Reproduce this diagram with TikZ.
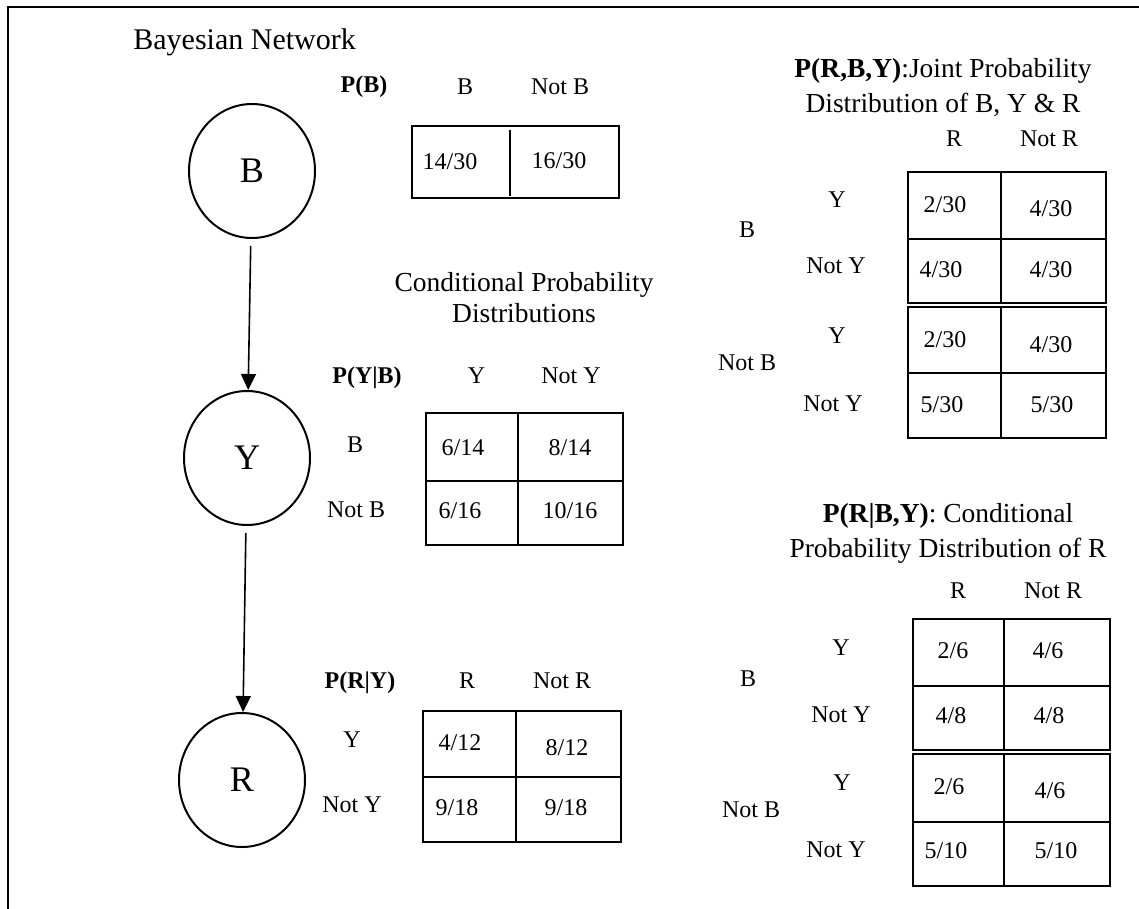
\documentclass[tikz,border=0pt]{standalone}
\usepackage{fontspec}
\setmainfont{Liberation Serif}
\usetikzlibrary{arrows.meta,shapes.geometric}
\begin{document}
\begin{tikzpicture}[x=0.5pt,y=-0.5pt,
 txt/.style={anchor=base,inner sep=0pt,font=\fontsize{12}{14}\selectfont},
 lbl/.style={anchor=base,inner sep=0pt,font=\fontsize{12}{14}\selectfont\bfseries},
 ttl/.style={anchor=base,inner sep=0pt,font=\fontsize{13.75}{16}\selectfont},
 bnode/.style={ellipse,draw,line width=1pt,minimum width=63pt,minimum height=67pt,inner sep=0pt,font=\fontsize{18}{20}\selectfont},
 tbl/.style={draw,line width=1pt},
 arr/.style={-{Triangle[length=8pt,width=7.5pt]},line width=0.8pt}
]
\useasboundingbox (0,0) rectangle (1139,909);
% frame
\draw[line width=1.2pt] (8,909) -- (8,7) -- (1139,7);
% title
\node[anchor=base west,inner sep=0pt,font=\fontsize{15}{17}\selectfont] (title) at (133,50) {Bayesian Network};
% network
\node[bnode] (B) at (252,171) {B};
\node[bnode] (Y) at (247,458) {Y};
\node[bnode] (R) at (242,780) {R};
\draw[arr,shorten <=3.5pt] (B) -- (Y);
\draw[arr,shorten <=3.5pt] (Y) -- (R);
% P(B)
\node[lbl] (pb) at (364,93) {P(B)};
\node[txt] (pbh1) at (465,95) {B};
\node[txt] (pbh2) at (560,95) {Not B};
\draw[tbl] (412,126) rectangle (619,198);
\draw[tbl] (510,130) -- (510,196);
\node[txt] (pb1) at (450,170) {14/30};
\node[txt] (pb2) at (559,169) {16/30};
% CPD title
\node[ttl] (cpd1) at (524,291) {Conditional Probability};
\node[ttl] (cpd2) at (524,322) {Distributions};
% P(Y|B)
\node[lbl] (pyb) at (367,383) {P(Y|B)};
\node[txt] (pybh1) at (476.5,383) {Y};
\node[txt] (pybh2) at (571,383) {Not Y};
\node[txt] (pybr1) at (355,452) {B};
\node[txt] (pybr2) at (356,517) {Not B};
\draw[tbl] (426,413) rectangle (623,545);
\draw[tbl] (518,413) -- (518,545);
\draw[tbl] (426,481) -- (623,481);
\node[txt] (pyb11) at (463,455) {6/14};
\node[txt] (pyb12) at (570,455) {8/14};
\node[txt] (pyb21) at (460,518) {6/16};
\node[txt] (pyb22) at (570,518) {10/16};
% P(R|Y)
\node[lbl] (pry) at (360,688) {P(R|Y)};
\node[txt] (pryh1) at (467,688) {R};
\node[txt] (pryh2) at (562,688) {Not R};
\node[txt] (pryr1) at (352,747) {Y};
\node[txt] (pryr2) at (352,812) {Not Y};
\draw[tbl] (423,711) rectangle (621,842);
\draw[tbl] (516,711) -- (516,842);
\draw[tbl] (423,777) -- (621,777);
\node[txt] (pry11) at (460,750) {4/12};
\node[txt] (pry12) at (567,755) {8/12};
\node[txt] (pry21) at (457,815) {9/18};
\node[txt] (pry22) at (566,815) {9/18};
% Joint
\node[ttl] (jt1) at (943,78) {\textbf{P(R,B,Y)}:Joint Probability};
\node[ttl] (jt2) at (943,113) {Distribution of B, Y \& R};
\node[txt] (jh1) at (954,147) {R};
\node[txt] (jh2) at (1049,147) {Not R};
\node[txt] (jr1) at (837,207) {Y};
\node[txt] (jb) at (747,237) {B};
\node[txt] (jr2) at (836,273) {Not Y};
\node[txt] (jr3) at (837,343) {Y};
\node[txt] (jnb) at (747,370) {Not B};
\node[txt] (jr4) at (833,411) {Not Y};
\draw[tbl] (908,172) rectangle (1106,303);
\draw[tbl] (1001,172) -- (1001,303);
\draw[tbl] (908,239) -- (1106,239);
\draw[tbl] (908,307) rectangle (1106,438);
\draw[tbl] (1001,307) -- (1001,438);
\draw[tbl] (908,373) -- (1106,373);
\node[txt] (j11) at (945,213) {2/30};
\node[txt] (j12) at (1051,217) {4/30};
\node[txt] (j21) at (941,277) {4/30};
\node[txt] (j22) at (1051,277) {4/30};
\node[txt] (j31) at (945,347) {2/30};
\node[txt] (j32) at (1051,352) {4/30};
\node[txt] (j41) at (942,412) {5/30};
\node[txt] (j42) at (1052,412) {5/30};
% P(R|B,Y)
\node[ttl] (ct1) at (948,522) {\textbf{P(R|B,Y)}: Conditional};
\node[ttl] (ct2) at (948,557) {Probability Distribution of R};
\node[txt] (ch1) at (958,598) {R};
\node[txt] (ch2) at (1053,598) {Not R};
\node[txt] (cr1) at (841,655) {Y};
\node[txt] (cb) at (748,686) {B};
\node[txt] (cr2) at (841,722) {Not Y};
\node[txt] (cr3) at (842,790) {Y};
\node[txt] (cnb) at (751,817) {Not B};
\node[txt] (cr4) at (836,857) {Not Y};
\draw[tbl] (913,619) rectangle (1110,750);
\draw[tbl] (1004,619) -- (1004,750);
\draw[tbl] (913,686) -- (1110,686);
\draw[tbl] (913,754) rectangle (1110,886);
\draw[tbl] (1004,754) -- (1004,886);
\draw[tbl] (913,822) -- (1110,822);
\node[txt] (c11) at (953,658) {2/6};
\node[txt] (c12) at (1048,658) {4/6};
\node[txt] (c21) at (951,723) {4/8};
\node[txt] (c22) at (1049,723) {4/8};
\node[txt] (c31) at (949,794) {2/6};
\node[txt] (c32) at (1050,798) {4/6};
\node[txt] (c41) at (946,858) {5/10};
\node[txt] (c42) at (1056,858) {5/10};
\end{tikzpicture}
\end{document}
